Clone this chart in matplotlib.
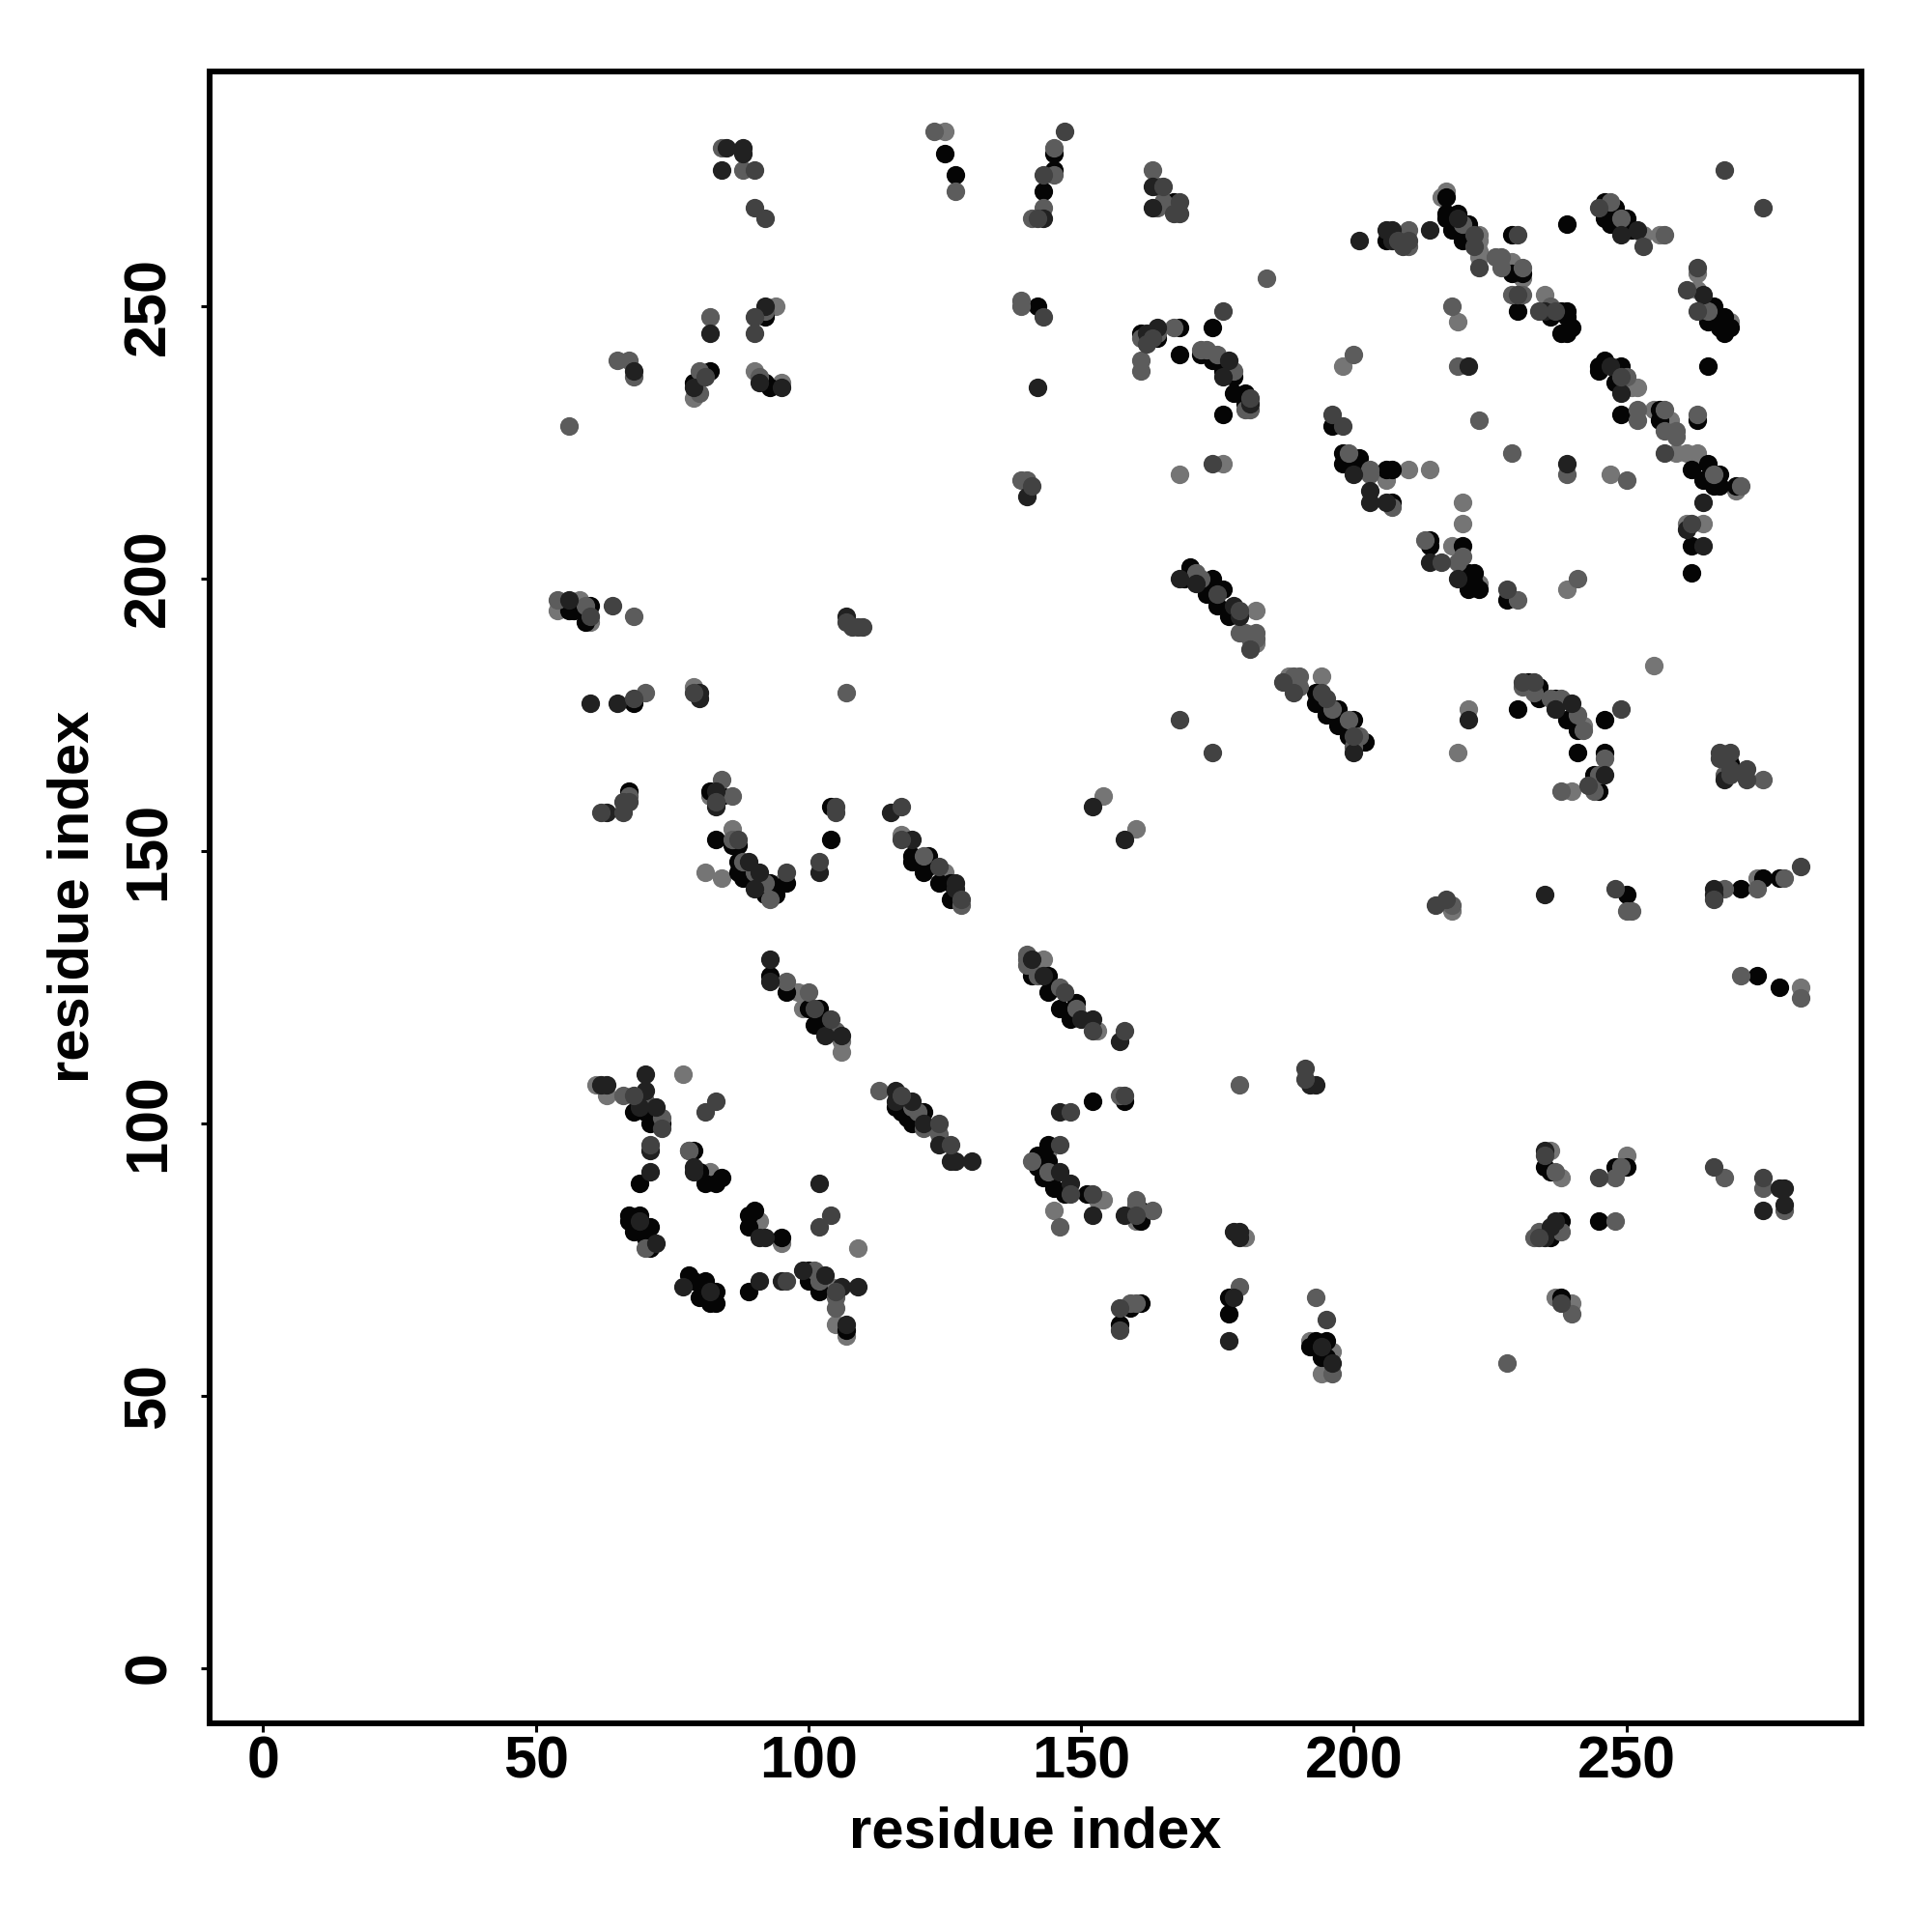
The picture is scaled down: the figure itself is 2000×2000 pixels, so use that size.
import matplotlib
matplotlib.use("Agg")
import matplotlib.pyplot as plt

plt.rcParams["font.family"] = ["Liberation Sans", "DejaVu Sans"]

# contatos, separados por nivel de cinza
black_x = [125,92,82,79,93,92,127,
           145,145,143,167,206,142,174,168,161,164,168,172,174,176,178,178,180,180,176,196,198,198,201,201,206,207,
           217,217,217,219,218,220,221,229,239,229,231,230,236,238,239,239,238,239,240,246,246,248,247,250,251,
           266,267,265,268,267,268,269,265,246,245,245,249,248,249,256,256,263,262,265,267,264,266,267,270,207,
           214,214,220,221,222,221,222,223,228,262,262,
           56,60,59,57,68,67,82,84,104,83,104,86,87,87,87,88,93,93,94,92,96,119,119,122,121,122,124,126,126,93,
           96,100,102,101,102,68,70,71,73,69,79,80,81,83,84,67,67,69,68,71,70,71,71,90,89,89,95,78,79,81,80,83,82,83,89,100,100,102,107,
           141,144,144,146,149,148,148,152,158,144,142,142,144,142,143,145,147,151,161,161,177,177,161,159,157,193,195,192,194,195,
           232,234,230,234,237,239,241,246,241,246,244,244,245,269,250,271,275,278,274,278,
           170,169,174,173,176,175,177,193,193,195,197,197,200,202,199,
           235,236,248,250,238,236,238,245,
           116,118,121,117,119]
black_y = [278,248,238,236,235,236,274,
           278,275,271,269,262,250,246,246,245,244,241,241,240,238,237,234,234,232,230,228,223,221,222,220,220,214,
           270,267,266,267,264,262,265,263,265,256,256,249,248,249,249,248,245,245,246,269,266,268,265,266,264,
           250,248,247,248,246,245,246,239,240,239,238,239,236,230,231,229,229,220,221,219,218,217,217,217,220,
           207,206,206,201,201,198,199,198,196,206,201,
           194,195,192,194,177,161,161,160,158,152,152,151,151,148,146,145,144,142,142,142,144,149,148,149,146,147,144,144,141,127,
           124,121,121,118,118,102,102,100,100,89,95,91,89,89,90,83,82,83,80,81,79,78,77,84,83,81,79,72,71,71,68,69,67,67,69,73,71,69,62,
           127,127,124,121,122,120,119,104,104,96,94,93,93,92,90,88,87,87,84,82,68,65,67,66,63,60,60,59,57,57,
           181,180,176,178,178,174,172,174,168,168,164,162,161,166,142,143,145,145,127,125,
           202,200,200,197,198,195,193,179,177,175,176,173,174,170,171,
           92,91,92,92,82,79,68,82,
           103,101,102,102,100]

dark_x = [85,88,88,84,92,82,68,95,91,79,
          143,163,163,201,206,164,162,142,177,176,181,140,200,203,203,206,
          214,207,207,219,235,221,249,252,264,249,239,214,264,219,261,264,247,
          56,60,65,80,80,107,63,83,83,115,102,119,89,91,90,127,127,93,
          93,103,106,70,70,62,63,69,72,71,71,79,79,102,69,91,92,72,77,82,91,95,99,103,106,109,107,
          141,143,146,192,193,146,148,150,152,157,152,158,178,179,179,177,178,194,196,
          237,240,268,246,235,266,266,221,
          168,171,178,179,200,152,158,
          235,278,279,275,279,237,236,235,
          116,116,119,121,124,126,127,130]
dark_y = [279,279,278,275,250,245,238,235,236,235,
          266,272,268,262,264,246,245,235,240,237,232,215,219,216,214,214,
          264,264,262,266,249,239,263,264,252,234,221,203,214,200,209,206,239,
          196,177,177,179,178,193,157,161,158,157,146,152,148,146,143,144,143,130,
          126,116,116,109,106,107,107,103,103,95,91,92,91,89,82,79,79,78,70,69,71,71,73,72,70,70,63,
          130,127,102,107,107,91,89,119,119,115,83,83,80,80,79,60,68,59,56,
          176,177,163,164,142,143,142,174,
          200,199,195,193,168,158,152,
          95,88,88,84,85,82,81,79,
          106,104,104,100,96,93,93,93]

mid_x = [90,92,90,90,81,90,
         147,143,142,165,168,167,168,208,143,176,162,163,181,141,196,198,174,
         268,275,210,209,222,222,223,230,230,234,237,245,253,263,261,263,249,257,216,228,262,
         60,64,68,79,107,108,109,110,67,66,66,62,83,105,105,117,87,96,102,117,124,128,
         101,104,68,73,83,81,71,104,102,96,105,
         147,158,152,148,158,191,191,146,148,152,160,157,157,195,
         249,231,233,243,267,267,269,269,269,272,272,215,217,248,266,282,
         175,179,181,168,174,187,189,194,195,200,
         235,245,266,275,234,238,
         124,126,117]
mid_y = [275,266,248,245,237,268,
         282,274,266,272,269,267,267,262,248,249,243,244,233,217,230,228,221,
         275,268,262,261,263,261,257,263,252,249,249,268,261,257,253,249,237,223,203,198,210,
         193,195,178,179,192,191,191,191,159,159,157,157,159,158,157,158,152,146,148,152,147,141,
         121,119,105,99,104,102,96,83,81,71,69,
         124,117,117,102,105,110,108,96,87,87,83,66,62,64,
         176,181,181,162,168,167,168,165,164,165,163,140,141,143,141,147,
         197,194,187,174,168,181,179,179,178,171,
         94,90,92,90,79,67,
         100,96,105]

light_x = [123,127,84,88,92,82,65,68,80,91,56,80,67,
           145,145,143,141,163,164,164,165,184,139,139,167,164,161,161,161,172,173,175,178,180,181,200,139,140,199,203,203,207,
           210,210,220,226,227,227,231,229,231,218,219,236,247,249,257,265,250,252,252,257,257,259,259,263,266,271,239,223,229,250,213,220,219,241,230,
           54,59,68,70,107,67,84,86,86,88,90,92,93,121,128,
           96,100,105,66,70,73,78,70,78,101,102,105,105,
           140,140,140,142,146,149,157,179,141,144,146,160,160,163,179,159,160,193,196,
           231,233,236,238,241,242,246,238,245,244,268,275,218,250,251,268,274,279,271,282,
           171,172,179,180,182,182,181,189,190,190,196,199,201,200,
           237,249,248,268,275,279,238,234,233,248,240,228,
           113,120,121,124,119]
light_y = [282,271,279,275,249,248,240,237,238,237,228,234,240,
           279,274,268,266,275,272,268,269,255,251,250,246,245,244,240,238,242,242,241,238,231,231,241,218,218,223,220,219,213,
           264,261,265,259,259,257,257,252,252,250,239,250,269,266,263,249,237,231,229,231,227,227,226,230,219,217,219,229,223,218,207,204,203,200,196,
           196,195,193,179,179,160,163,160,152,148,146,144,141,149,140,
           126,124,117,105,104,101,95,77,95,73,71,66,68,
           131,130,129,127,125,121,105,107,93,91,81,86,85,84,70,67,67,68,54,
           180,179,178,178,175,172,167,161,164,161,164,163,140,139,139,143,143,145,127,123,
           201,200,190,190,190,189,189,182,182,180,176,174,171,169,
           91,92,90,90,88,84,80,80,79,82,65,56,
           106,102,99,98,103]

pale_x = [125,94,90,95,79,198,168,176,206,
          217,216,223,223,223,223,229,231,230,235,219,253,256,263,263,269,251,252,255,258,259,261,263,263,270,210,214,247,220,220,218,223,239,261,264,
          54,58,60,79,82,86,95,81,84,117,125,
          77,98,99,103,106,106,61,63,82,82,91,95,109,104,105,107,
          143,153,144,153,154,145,160,180,192,196,194,
          255,221,219,242,240,218,274,282,
          182,182,188,194,154,160,
          236,238,250,237,240]
pale_y = [282,250,238,236,233,239,219,221,218,
          271,270,263,262,260,259,258,255,256,252,247,263,263,256,253,247,235,235,231,229,223,223,223,222,216,220,220,219,214,210,206,199,198,210,210,
          194,196,192,180,160,154,144,146,145,153,146,
          109,124,121,119,115,113,107,105,91,90,82,78,77,70,63,61,
          130,117,95,86,86,84,82,79,60,58,54,
          184,176,168,173,161,139,145,125,
          194,188,182,182,160,154,
          95,90,94,68,67]

gray_levels = {"pale": 0.46, "light": 0.36, "mid": 0.26, "dark": 0.13, "black": 0.02}
tick_vals = [0, 50, 100, 150, 200, 250]


fig = plt.figure(figsize=(10, 10), dpi=200)
ax = fig.add_axes([216.5 / 2000, 216.5 / 2000, 1710.5 / 2000, 1710 / 2000])

# ordem de desenho escolhida a olho
layers = [
    (pale_x, pale_y, "pale"),
    (black_x, black_y, "black"),
    (light_x, light_y, "light"),
    (dark_x, dark_y, "dark"),
    (mid_x, mid_y, "mid"),
]
for xs, ys, nivel in layers:
    g = gray_levels[nivel]
    ax.scatter(xs, ys, s=48, color=(g, g, g), linewidths=0, zorder=2)

ax.set_xlim(-9.92, 293.1)
ax.set_ylim(-10.1, 293.1)
ax.set_xticks(tick_vals)
ax.set_yticks(tick_vals)
ax.tick_params(length=3.4, width=1.1, labelsize=22)
ax.tick_params(axis="x", pad=1.4)
ax.tick_params(axis="y", pad=8.4)
for lab in ax.get_xticklabels():
    lab.set_fontweight("bold")
for lab in ax.get_yticklabels():
    lab.set_fontweight("bold")
    lab.set_rotation(90)
    lab.set_va("center")
for sp in ax.spines.values():
    sp.set_linewidth(2.16)

ax.set_xlabel("residue index", fontsize=21.5, fontweight="bold", labelpad=5.5)
ax.set_ylabel("residue index", fontsize=21.5, fontweight="bold", labelpad=8.5)

plt.savefig("out.png", dpi=200)
plt.close()
